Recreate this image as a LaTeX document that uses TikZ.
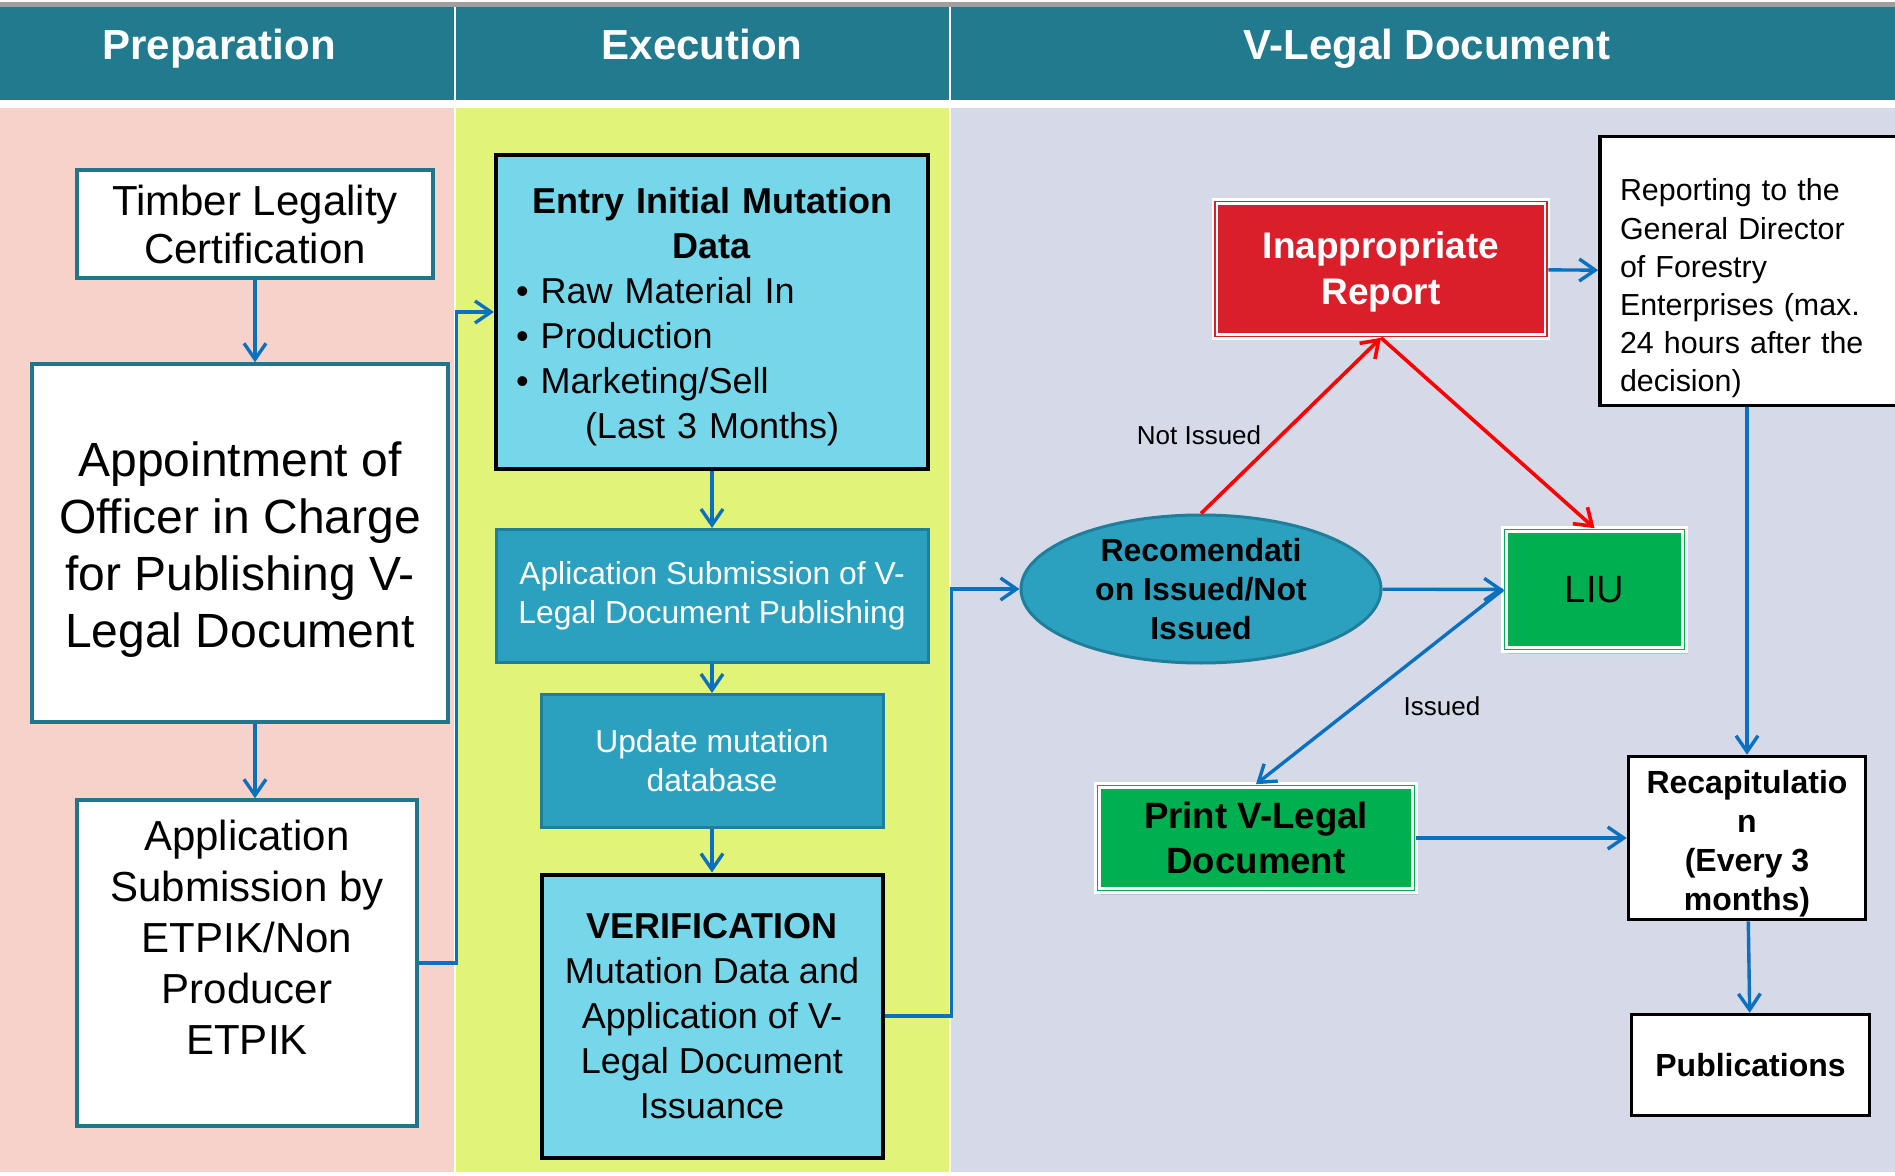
\documentclass[tikz,border=0pt]{standalone}
\usepackage{fontspec}
\setmainfont{Liberation Sans}
\usetikzlibrary{arrows.meta,shapes.geometric,shadows}
\definecolor{headteal}{HTML}{227A8E}
\definecolor{prepbg}{HTML}{F6D2CB}
\definecolor{execbg}{HTML}{E2F478}
\definecolor{vlegbg}{HTML}{D6D9E8}
\definecolor{boxteal}{HTML}{20768C}
\definecolor{flowblue}{HTML}{0A70C0}
\definecolor{lightcyan}{HTML}{76D6EA}
\definecolor{midteal}{HTML}{2CA1BF}
\definecolor{midtealdark}{HTML}{1F7F9A}
\definecolor{repred}{HTML}{DA1F2B}
\definecolor{okgreen}{HTML}{00B050}

\begin{document}
\begin{tikzpicture}[x=0.5pt,y=-0.5pt]
\tikzstyle{every node}+=[inner sep=0pt]
\tikzstyle{headtxt}=[anchor=base,text=white,font=\fontsize{21}{25}\selectfont\bfseries]
\tikzstyle{prepbox}=[draw=boxteal,line width=1.7pt,fill=white,align=center]
\tikzstyle{cyanbox}=[draw=black,line width=2pt,fill=lightcyan]
\tikzstyle{tealbox}=[draw=midtealdark,line width=1.5pt,fill=midteal,text=white,align=center,font=\fontsize{15.9}{19.5}\selectfont]
\tikzstyle{framed}=[draw=white,line width=1.3pt,double distance=0.7pt,drop shadow={shadow xshift=1.5pt,shadow yshift=-2pt,opacity=0.3},align=center]
\tikzstyle{plainbox}=[draw=black,line width=1.8pt,fill=white]
\tikzstyle{flow}=[draw=flowblue,line width=1.7pt,-{Straight Barb[length=8pt,width=11pt]}]
\tikzstyle{redflow}=[draw=red,line width=1.8pt,-{Straight Barb[length=8pt,width=11pt]}]
\tikzstyle{edgetxt}=[font=\fontsize{13}{15}\selectfont]
\useasboundingbox (0,0) rectangle (1895,1176);
\clip (0,0) rectangle (1895,1176);
\fill [white] (0,0) rectangle (1895,1176);
\fill [gray!75] (0,2) rectangle (1895,7);
\fill [headteal] (0,7) rectangle (1895,100);
\draw [white,line width=1pt] (455,7) -- (455,100);
\draw [white,line width=1pt] (950,7) -- (950,100);
\fill [prepbg] (0,108) rectangle (454,1172);
\fill [execbg] (456,108) rectangle (949,1172);
\fill [vlegbg] (951,108) rectangle (1895,1172);
\draw (219,60) node [headtxt] (hprep) {Preparation};
\draw (702,60) node [headtxt] (hexec) {Execution};
\draw (1427,60) node [headtxt] (hvleg) {V-Legal Document};
\draw (255,224) node [prepbox,minimum width=178pt,minimum height=54pt,font=\fontsize{21}{24}\selectfont] (timber) {Timber Legality\\Certification};
\draw (240,543) node [prepbox,minimum width=208pt,minimum height=179pt,font=\fontsize{24}{28.6}\selectfont] (appoint) {\rule{0pt}{24pt}Appointment of\\Officer in Charge\\for Publishing V-\\Legal Document};
\draw (247,963) node [prepbox,minimum width=170pt,minimum height=163pt,font=\fontsize{21}{25.5}\selectfont] (applic) {Application\\Submission by\\ETPIK/Non\\Producer\\ETPIK\\ \mbox{}};
\draw (712,312) node [cyanbox,text width=196pt,inner xsep=10pt,minimum height=156.5pt,font=\fontsize{18}{22.5}\selectfont] (entry) {{\centering\bfseries\rule{0pt}{18pt}Entry Initial Mutation\\Data\par}\raggedright
\textbullet\ Raw Material In\\
\textbullet\ Production\\
\textbullet\ Marketing/Sell\\
\hspace*{34.5pt}(Last 3 Months)};
\draw (712,596) node [tealbox,minimum width=216pt,minimum height=66.5pt] (submit) {Aplication Submission of V-\\Legal Document Publishing};
\draw (712,761) node [tealbox,minimum width=171pt,minimum height=66.5pt] (update) {Update mutation\\database};
\draw (712,1016) node [cyanbox,align=center,minimum width=170.5pt,minimum height=141.5pt,font=\fontsize{18}{22.5}\selectfont] (verify) {\textbf{VERIFICATION}\\Mutation Data and\\Application of V-\\Legal Document\\Issuance};
\draw (1201,589) node [ellipse,draw=midtealdark,line width=1.5pt,fill=midteal,minimum width=180pt,minimum height=74pt,align=center,font=\fontsize{16}{19.5}\selectfont\bfseries] (recom) {Recomendati\\on Issued/Not\\Issued};
\draw (1381,269) node [framed,fill=repred,double=repred,minimum width=166pt,minimum height=67.5pt,text=white,font=\fontsize{18.5}{23}\selectfont\bfseries] (report) {\rule{0pt}{16pt}Inappropriate\\Report};
\draw (1760,271) node [plainbox,text width=140pt,inner xsep=10pt,minimum height=134.5pt,font=\fontsize{15.2}{19.1}\selectfont] (gdir) {\raggedright\rule{0pt}{28.5pt}Reporting to the\\General Director\\of Forestry\\Enterprises (max.\\24 hours after the\\decision)};
\draw (1594.5,589.5) node [framed,fill=okgreen,double=okgreen,minimum width=90pt,minimum height=60pt,font=\fontsize{19}{22}\selectfont] (liu) {LIU};
\draw (1256,838) node [framed,fill=okgreen,double=okgreen,minimum width=158.5pt,minimum height=52.5pt,font=\fontsize{18.3}{22.5}\selectfont\bfseries] (print) {Print V-Legal\\Document};
\draw (1747,838) node [plainbox,align=center,minimum width=118.5pt,minimum height=81.5pt,font=\fontsize{16}{19.5}\selectfont\bfseries] (recap) {\rule{0pt}{17pt}Recapitulatio\\n\\(Every 3\\months)};
\draw (1750.5,1065) node [plainbox,align=center,minimum width=119pt,minimum height=50.5pt,font=\fontsize{16}{19.5}\selectfont\bfseries] (publ) {Publications};
\draw (1199,435) node [edgetxt] (nlab) {Not Issued};
\draw (1442,706) node [edgetxt] (ilab) {Issued};
\draw [flow] (timber.south) -- (timber.south |- appoint.north);
\draw [flow] (timber.south |- appoint.south) -- (timber.south |- applic.north);
\draw [flow] (applic.east) -- ++(38,0) |- (entry.west);
\draw [flow] (entry) -- (submit);
\draw [flow] (submit) -- (update);
\draw [flow] (update) -- (verify);
\draw [flow] (verify.east) -- ++(67,0) |- (recom.west);
\draw [flow] (recom) -- (liu);
\draw [redflow] (recom.north) -- (report.south);
\draw [redflow] (report.south) -- (liu.north);
\draw [flow] (report) -- (gdir);
\draw [flow] (liu.west) -- (print.north);
\draw [flow] (print) -- (recap);
\draw [flow] (recap.north |- gdir.south) -- (recap.north);
\draw [flow] (recap) -- (publ);
\end{tikzpicture}
\end{document}
